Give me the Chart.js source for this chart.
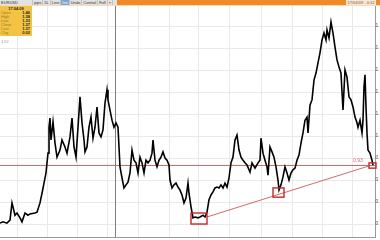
<!DOCTYPE html>
<html>
<head>
<meta charset="utf-8">
<script src="https://cdn.jsdelivr.net/npm/chart.js@4.4.1/dist/chart.umd.min.js"></script>
<style>
  html,body{margin:0;padding:0;background:#fff;width:380px;height:240px;overflow:hidden;font-family:"Liberation Sans",Arial,sans-serif;}
  #wrap{position:relative;width:380px;height:240px;}
  canvas{position:absolute;left:0;top:0;}
  #bar{position:absolute;left:0;top:0;width:380px;height:5px;background:#f08a24;border-bottom:1px solid #fbd9b6;z-index:2;}
  #tools{position:absolute;left:0;top:0;width:117px;height:5px;background:#e2e2e2;display:flex;}
  #tools span{font-size:4px;line-height:5px;color:#333;border-right:1px solid #c4c4c4;padding:0 1px;white-space:nowrap;overflow:hidden;}
  #stamp{position:absolute;left:346px;top:0;width:30px;height:5px;background:#fde7cf;font-size:4px;line-height:5px;color:#555;text-align:center;white-space:nowrap;}
  #quote{position:absolute;left:0;top:6px;width:32px;height:30px;background:#f3c443;z-index:2;font-size:4px;line-height:4px;color:#222;}
  #quote .h{text-align:center;font-weight:bold;height:5px;line-height:5px;}
  #quote .r{display:flex;justify-content:space-between;padding:0 2px 0 1px;height:4px;}
  #quote .r i{font-style:normal;color:#9a7a2a;}
  #quote .r b{font-weight:bold;}
  #side{position:absolute;left:1px;top:39px;font-size:4px;color:#b08888;z-index:2;}
</style>
</head>
<body>
<div id="wrap">
  <canvas id="c" width="380" height="240"></canvas>
  <div id="bar">
    <div id="tools"><span style="width:30px">EURUSD</span><span>pips</span><span>5L</span><span>Line</span><span style="background:#7aa7d8;color:#fff">Inv</span><span>Undo</span><span>Control</span><span>Full</span><span style="color:#e07010">▾</span></div>
    <div id="stamp">17/04/09 - 0:12</div>
  </div>
  <div id="quote"></div>
  <div id="side">1.92</div>
</div>
<script>
// ---- data ----
const quoteDate = "17.04.09";
const quoteLabels = ["Open", "High", "Low", "Close", "Last", "Chg"];
const quoteValues = ["1.46", "1.38", "1.33", "1.37", "1.37", "0.02"];

const bars = [0,3,7,10,12,13,15,17,20,22,25,28,30,35,37,40,42,44,46,47,48,49,50,51,53,55,57,60,62,65,67,70,72,74,76,78,80,82,84,85,87,89,91,93,95,97,99,101,103,105,107,108,110,112,114,116,118,119,120,122,124,126,128,130,132,134,136,138,140,142,144,146,148,150,152,153,155,157,159,161,163,165,167,169,170,172,174,176,178,180,182,184,186,188,189,191,193,195,198,200,203,205,207,209,211,213,215,217,219,221,223,225,227,229,231,233,235,237,239,241,243,245,247,250,252,255,258,260,261,263,265,267,268,270,272,274,276,278,279,281,283,285,287,289,291,293,295,297,299,301,303,305,307,308,310,312,314,316,318,320,322,324,326,327,329,331,333,335,337,339,341,343,345,347,349,351,353,355,357,358,360,362,363,364,365,366,367,368,370,372,373];
const closes = [0.802,0.805,0.802,0.809,0.848,0.839,0.820,0.825,0.814,0.805,0.825,0.820,0.823,0.825,0.827,0.848,0.870,0.893,0.916,0.939,0.961,1.020,1.041,0.991,1.032,0.984,0.952,0.968,0.991,0.975,0.961,0.998,1.041,0.975,0.952,1.020,1.089,1.030,0.991,0.964,0.975,1.020,1.043,0.995,1.020,1.066,1.007,0.998,1.014,1.075,1.105,1.082,1.059,1.036,1.020,1.030,1.020,0.975,0.930,0.905,0.882,0.889,0.895,0.916,0.968,0.945,0.939,0.916,0.952,0.939,0.916,0.945,0.939,0.945,0.961,0.991,0.945,0.930,0.945,0.952,0.964,0.950,0.945,0.934,0.900,0.882,0.889,0.893,0.884,0.877,0.866,0.848,0.859,0.893,0.870,0.839,0.814,0.816,0.814,0.816,0.820,0.816,0.827,0.855,0.866,0.873,0.882,0.884,0.882,0.889,0.882,0.893,0.884,0.905,0.939,0.952,0.991,1.002,0.968,0.952,0.945,0.939,0.934,0.918,0.939,0.927,0.939,0.945,0.995,0.961,0.945,0.930,0.911,0.975,0.964,0.952,0.930,0.900,0.877,0.889,0.907,0.930,0.916,0.900,0.916,0.923,0.927,0.945,0.957,0.984,1.007,1.036,1.043,1.007,1.070,1.082,1.127,1.143,1.166,1.189,1.218,1.234,1.218,1.241,1.223,1.259,1.234,1.202,1.173,1.157,1.143,1.059,1.150,1.134,1.089,1.082,1.066,1.043,1.030,1.020,1.036,1.007,1.036,1.111,1.139,1.066,1.007,0.968,0.961,0.945,0.934];

const priceTicks = [0.80,0.85,0.90,0.95,1.00,1.05,1.10,1.15,1.20,1.25,1.30];
const periodStartBars = [17,47,77,107,138,169,199,230,261,292,322,352];
const cursorBar = 115;
const levelPrice = 0.935;
const levelLabel = "0.93";
const trendBars = [207, 369];
const trendPrices = [0.816, 0.932];
// pivot boxes: [firstBar, lastBar] and [lowPrice, highPrice]
const boxBars = [[191,207],[273,284],[369,376]];
const boxPrices = [[0.800,0.825],[0.861,0.882],[0.927,0.939]];

// ---- quote panel ----
const q = document.getElementById('quote');
let html = '<div class="h">' + quoteDate + '</div>';
quoteLabels.forEach((l,i)=>{ html += '<div class="r"><i>' + l + '</i><b>' + quoteValues[i] + '</b></div>'; });
q.innerHTML = html;

// ---- overlay plugin ----
const overlay = {
  id: 'overlay',
  beforeDatasetsDraw(chart){
    const {ctx, chartArea:a, scales:{x,y}} = chart;
    ctx.save();
    ctx.strokeStyle = '#7d7d7d'; ctx.lineWidth = 1;
    const cx = Math.round(x.getPixelForValue(cursorBar)) + 0.5;
    ctx.beginPath(); ctx.moveTo(cx, 0); ctx.lineTo(cx, a.bottom); ctx.stroke();
    ctx.strokeStyle = '#d36a66';
    const ly = Math.round(y.getPixelForValue(levelPrice)) + 0.5;
    ctx.beginPath(); ctx.moveTo(a.left, ly); ctx.lineTo(a.right, ly); ctx.stroke();
    ctx.restore();
  },
  afterDatasetsDraw(chart){
    const {ctx, scales:{x,y}} = chart;
    ctx.save();
    ctx.strokeStyle = '#c8262a'; ctx.lineWidth = 1.4;
    boxBars.forEach((b,i)=>{
      const x0 = x.getPixelForValue(b[0]), x1 = x.getPixelForValue(b[1]);
      const y0 = y.getPixelForValue(boxPrices[i][1]), y1 = y.getPixelForValue(boxPrices[i][0]);
      ctx.strokeRect(x0, y0, x1-x0, y1-y0);
    });
    ctx.fillStyle = '#d36a66';
    ctx.font = '5px "Liberation Sans", Arial, sans-serif';
    ctx.textAlign = 'left'; ctx.textBaseline = 'bottom';
    ctx.fillText(levelLabel, x.getPixelForValue(353), y.getPixelForValue(levelPrice) - 1);
    ctx.restore();
  }
};

new Chart(document.getElementById('c'), {
  type: 'line',
  data: {
    datasets: [
      { data: bars.map((b,i)=>({x:b, y:closes[i]})), borderColor:'#000', borderWidth:1.6, pointRadius:0, tension:0, borderJoinStyle:'miter' },
      { data: trendBars.map((b,i)=>({x:b, y:trendPrices[i]})), borderColor:'#d36a66', borderWidth:1, pointRadius:0, tension:0 }
    ]
  },
  options: {
    responsive:false, animation:false,
    layout:{padding:{top:4,bottom:3,left:0,right:0}},
    plugins:{legend:{display:false}, tooltip:{enabled:false}},
    scales:{
      x:{ type:'linear', min:0, max:375,
          ticks:{display:false}, grid:{color:'#e9e9e9', drawTicks:false},
          border:{display:true, color:'#9a9a9a'},
          afterBuildTicks:s=>{ s.ticks = periodStartBars.map(v=>({value:v})); } },
      y:{ position:'right', min:0.7705, max:1.30,
          ticks:{display:true, padding:0.5, color:'#555', font:{size:5, lineHeight:1, family:'"Liberation Sans", Arial'}, callback:v=>v.toFixed(2)},
          grid:{color:'#e9e9e9', drawTicks:false},
          border:{display:true, color:'#9a9a9a'},
          afterBuildTicks:s=>{ s.ticks = priceTicks.map(v=>({value:v})); },
          afterFit:s=>{ s.width = 5; } }
    }
  },
  plugins:[overlay]
});
</script>
</body>
</html>
